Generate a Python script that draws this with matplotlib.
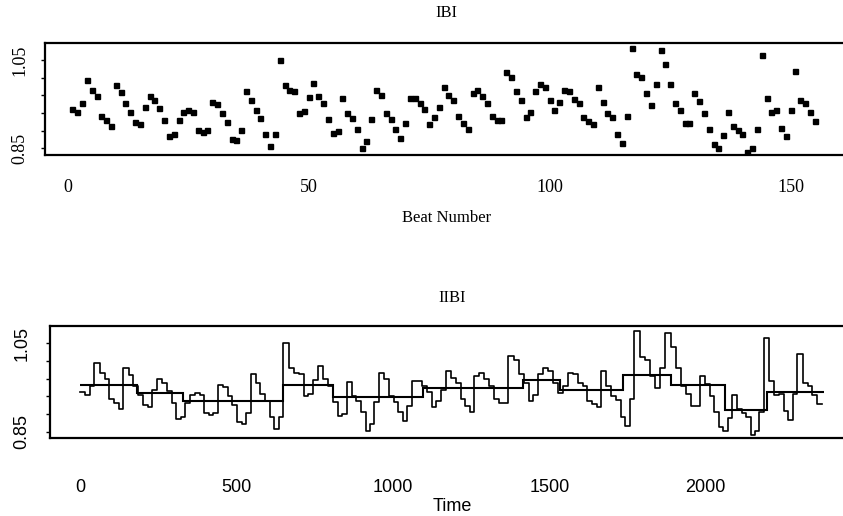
import numpy as np
import matplotlib.pyplot as plt

# inter-beat intervals (s), one per beat
ibi = [
    0.940, 0.932, 0.953, 1.006, 0.982, 0.968, 0.923, 0.914, 0.901, 0.993,
    0.977, 0.953, 0.933, 0.910, 0.906, 0.944, 0.968, 0.960, 0.942, 0.914,
    0.878, 0.883, 0.914, 0.933, 0.938, 0.933, 0.891, 0.887, 0.891, 0.955,
    0.950, 0.930, 0.909, 0.872, 0.868, 0.892, 0.980, 0.959, 0.936, 0.918,
    0.883, 0.855, 0.883, 1.050, 0.993, 0.983, 0.980, 0.931, 0.935, 0.967,
    0.998, 0.968, 0.953, 0.917, 0.885, 0.889, 0.963, 0.930, 0.918, 0.894,
    0.851, 0.867, 0.917, 0.983, 0.970, 0.930, 0.917, 0.894, 0.874, 0.908,
    0.964, 0.964, 0.953, 0.940, 0.905, 0.920, 0.944, 0.988, 0.972, 0.959,
    0.923, 0.908, 0.894, 0.976, 0.983, 0.968, 0.952, 0.924, 0.914, 0.914,
    1.022, 1.011, 0.980, 0.959, 0.920, 0.933, 0.980, 0.995, 0.988, 0.960,
    0.937, 0.954, 0.983, 0.980, 0.961, 0.953, 0.920, 0.912, 0.906, 0.988,
    0.954, 0.930, 0.921, 0.882, 0.862, 0.924, 1.077, 1.018, 1.011, 0.976,
    0.949, 0.995, 1.073, 1.041, 0.995, 0.953, 0.936, 0.908, 0.908, 0.976,
    0.957, 0.930, 0.894, 0.861, 0.851, 0.881, 0.932, 0.901, 0.892, 0.882,
    0.842, 0.851, 0.894, 1.061, 0.964, 0.932, 0.936, 0.896, 0.877, 0.936,
    1.026, 0.959, 0.953, 0.932, 0.913,
]
beats = np.arange(1, len(ibi) + 1)

# time axis of the lower panel is in samples
samples_per_second = 16.3

# piecewise-constant trend drawn over the IIBI trace
trend_edges = [0, 182, 329, 649, 809, 1096, 1416, 1534, 1735, 1890, 2061, 2196, 2378]
trend_levels = [0.956, 0.938, 0.920, 0.956, 0.928, 0.949, 0.967, 0.944, 0.978, 0.955, 0.899, 0.939]

beat_ticks = [0, 50, 100, 150]
time_ticks = [0, 500, 1000, 1500, 2000]
ibi_ticks = [0.85, 0.89, 0.93, 0.97, 1.01, 1.05]
ibi_ticklabels = ['0.85', '', '', '', '', '1.05']

W, H = 843, 516
fig = plt.figure(figsize=(W / 100, H / 100), dpi=100)


def px_axes(left, top, right, bottom):
    return fig.add_axes([left / W, 1 - bottom / H, (right - left) / W, (bottom - top) / H])


def style_box(ax):
    for side in ['left', 'top', 'bottom', 'right']:
        ax.spines[side].set_linewidth(1.6)


serif = ['Liberation Serif', 'DejaVu Serif']
sans = ['Liberation Sans', 'DejaVu Sans']

# --- upper panel: IBI per beat ---
ax1 = px_axes(45, 43.3, 848, 155)
ax1.plot(beats, ibi, linestyle='none', marker='s', ms=3.6, color='black')
ax1.set_xlim(-4.7, 161.9)
ax1.set_ylim(0.835, 1.088)
ax1.set_xticks(beat_ticks)
ax1.set_yticks(ibi_ticks)
ax1.set_yticklabels(ibi_ticklabels)
ax1.tick_params(axis='x', length=0, pad=17, labelsize=13)
ax1.tick_params(axis='y', length=3, width=1, pad=9, labelsize=13, labelrotation=90)
for lab in ax1.get_xticklabels() + ax1.get_yticklabels():
    lab.set_family(serif)
for lab in ax1.get_yticklabels():
    lab.set_va('center')
ax1.set_xlabel('Beat Number', family=serif, fontsize=12, labelpad=10)
ax1.set_title('IBI', family=serif, fontsize=12, pad=19)
style_box(ax1)

# --- lower panel: IIBI against time ---
beat_times = np.concatenate([[0], np.cumsum(ibi)]) * samples_per_second
ax2 = px_axes(50, 326, 854, 437.7)
ax2.step(beat_times, list(ibi) + [ibi[-1]], where='post', color='black', lw=1.2)
ax2.stairs(trend_levels, trend_edges, color='black', lw=1.5, baseline=None)
ax2.set_xlim(-95.9, 2474)
ax2.set_ylim(0.836, 1.089)
ax2.set_xticks(time_ticks)
ax2.set_yticks(ibi_ticks)
ax2.set_yticklabels(ibi_ticklabels)
ax2.tick_params(axis='x', length=0, pad=30, labelsize=13)
ax2.tick_params(axis='y', length=3, width=1, pad=11, labelsize=13, labelrotation=90)
for lab in ax2.get_xticklabels() + ax2.get_yticklabels():
    lab.set_family(sans)
for lab in ax2.get_yticklabels():
    lab.set_va('center')
ax2.set_xlabel('Time', family=sans, fontsize=13, labelpad=1)
ax2.set_title('IIBI', family=serif, fontsize=12, pad=17)
style_box(ax2)

fig.savefig('out.png', dpi=100)
